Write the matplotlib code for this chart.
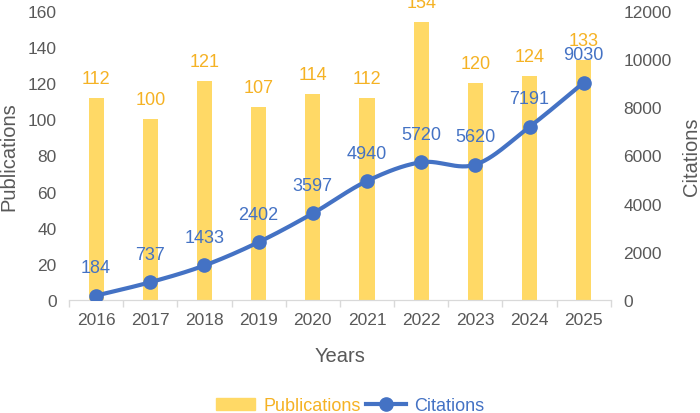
import matplotlib.pyplot as plt
import numpy as np
from matplotlib.lines import Line2D
from matplotlib.patches import Patch

plt.rcParams['font.family'] = ['Liberation Sans', 'DejaVu Sans']

years = ['2016', '2017', '2018', '2019', '2020', '2021', '2022', '2023', '2024', '2025']
publications = [112, 100, 121, 107, 114, 112, 154, 120, 124, 133]
citations = [184, 737, 1433, 2402, 3597, 4940, 5720, 5620, 7191, 9030]

bar_col = '#FFD966'
lab_col = '#F5B224'
line_col = '#4472C4'
txt_col = '#595959'


def smooth(x, y, n=30):
    # catmull-rom style smoothing, like the excel "smoothed line"
    x = np.asarray(x, float)
    y = np.asarray(y, float)
    px = np.concatenate([[x[0]], x, [x[-1]]])
    py = np.concatenate([[y[0]], y, [y[-1]]])
    xs, ys = [], []
    t = np.linspace(0, 1, n)
    for i in range(1, len(px) - 2):
        p0, p1, p2, p3 = [np.array([px[j], py[j]]) for j in (i - 1, i, i + 1, i + 2)]
        c1 = p1 + (p2 - p0) / 6
        c2 = p2 - (p3 - p1) / 6
        b = ((1 - t) ** 3)[:, None] * p1 + (3 * (1 - t) ** 2 * t)[:, None] * c1 \
            + (3 * (1 - t) * t ** 2)[:, None] * c2 + (t ** 3)[:, None] * p2
        xs.extend(b[:, 0])
        ys.extend(b[:, 1])
    return xs, ys


fig = plt.figure(figsize=(7, 4.14), dpi=100)
ax1 = fig.add_axes([0.0986, 0.273, 0.774, 0.698])
ax2 = ax1.twinx()

x = np.arange(len(years))
ax1.bar(x, publications, width=0.28, color=bar_col, zorder=1)
for xi, v in zip(x, publications):
    ax1.annotate(str(v), (xi, v), xytext=(0, 8), textcoords='offset points',
                 ha='center', va='bottom', color=lab_col, fontsize=13,
                 annotation_clip=False)

sx, sy = smooth(x, citations)
ax2.plot(sx, sy, color=line_col, lw=3, zorder=3)
ax2.plot(x, citations, 'o', color=line_col, ms=9.5, zorder=4)
for xi, v in zip(x, citations):
    ax2.annotate(str(v), (xi, v), xytext=(0, 14), textcoords='offset points',
                 ha='center', va='bottom', color=line_col, fontsize=13)

ax1.set_xlim(-0.5, len(years) - 0.5)
ax1.set_ylim(0, 160)
ax1.set_yticks(np.arange(0, 161, 20))
ax2.set_ylim(0, 12000)
ax2.set_yticks(np.arange(0, 12001, 2000))

ax1.set_xticks(x)
ax1.set_xticklabels(years)
ax1.set_xticks(np.arange(-0.5, len(years), 1), minor=True)
ax1.tick_params(axis='x', which='major', length=0, pad=9, labelsize=12.5, labelcolor=txt_col)
ax1.tick_params(axis='x', which='minor', length=5, color='#D9D9D9', width=1)
ax1.tick_params(axis='y', length=0, labelsize=12.5, labelcolor=txt_col, pad=9)
ax2.tick_params(axis='y', length=0, labelsize=12.5, labelcolor=txt_col, pad=9)

for a in (ax1, ax2):
    for s in ('top', 'left', 'right'):
        a.spines[s].set_visible(False)
    a.spines['bottom'].set_color('#D9D9D9')

ax1.set_xlabel('Years', fontsize=14.5, color=txt_col)
ax1.xaxis.set_label_coords(0.5, -0.158)
ax1.set_ylabel('Publications', fontsize=14.5, color=txt_col)
ax1.yaxis.set_label_coords(-0.094, 0.5)
ax2.set_ylabel('Citations', fontsize=14.5, color=txt_col, rotation=90)
ax2.yaxis.set_label_coords(1.131, 0.5)

handles = [Patch(color=bar_col),
           Line2D([0], [0], color=line_col, lw=3, marker='o', ms=9.5)]
leg = fig.legend(handles, ['Publications', 'Citations'], loc='center',
                 bbox_to_anchor=(0.5, 1 - 407 / 414), ncol=2, frameon=False, fontsize=13,
                 handlelength=2.2, handleheight=0.6, handletextpad=0.45,
                 columnspacing=0.3, borderaxespad=0)
for t, c in zip(leg.get_texts(), [lab_col, line_col]):
    t.set_color(c)

fig.savefig('out.png', dpi=100)
